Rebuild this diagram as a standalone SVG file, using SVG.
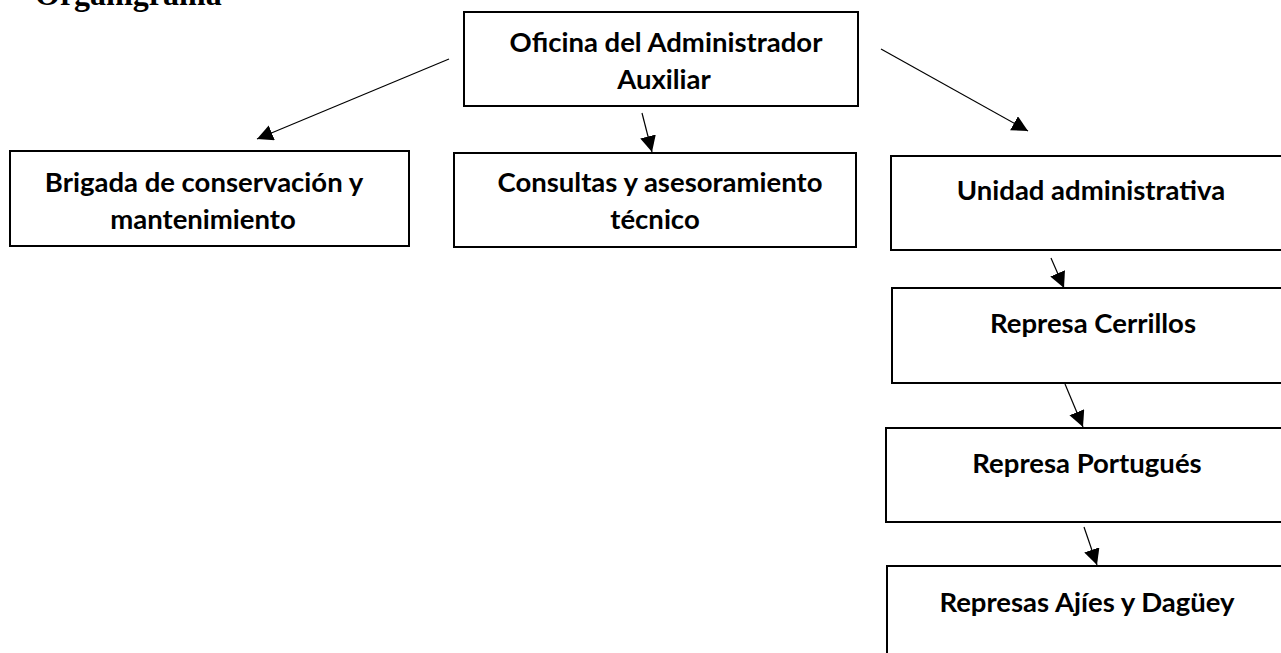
<svg xmlns="http://www.w3.org/2000/svg" width="1281" height="653" viewBox="0 0 1281 653">
<defs>
<style>
.box{fill:#fff;stroke:#000;stroke-width:2}
.t{font-family:Lato,"Liberation Sans",sans-serif;font-weight:bold;font-size:27.5px;fill:#000;text-anchor:middle}
.title{font-family:"Liberation Serif",serif;font-weight:bold;font-size:32px;fill:#000}
.c{stroke:#000;stroke-width:1.2;fill:none;marker-end:url(#ah)}
</style>
<marker id="ah" markerUnits="userSpaceOnUse" markerWidth="18" markerHeight="18" refX="16" refY="8" orient="auto">
<path d="M0,0 L16,8 L0,16 Z" fill="#000"/>
</marker>
</defs>
<rect width="1281" height="653" fill="#fff"/>
<text class="title" x="35" y="5">Organigrama</text>
<g id="connectors">
<line class="c" x1="449" y1="59" x2="257" y2="139"/>
<line class="c" x1="642" y1="113" x2="652" y2="152"/>
<line class="c" x1="881" y1="49" x2="1028" y2="131"/>
<line class="c" x1="1051" y1="258" x2="1064" y2="288"/>
<line class="c" x1="1065" y1="384" x2="1083" y2="427"/>
<line class="c" x1="1084" y1="527" x2="1097" y2="565"/>
</g>
<g id="n-oficina">
<rect class="box" x="464" y="12" width="394" height="94"/>
<text class="t" x="666" y="52">Oficina del Administrador</text>
<text class="t" x="664" y="89">Auxiliar</text>
</g>
<g id="n-brigada">
<rect class="box" x="10" y="151" width="399" height="95"/>
<text class="t" x="204" y="192">Brigada de conservación y</text>
<text class="t" x="203" y="229">mantenimiento</text>
</g>
<g id="n-consultas">
<rect class="box" x="454" y="153" width="402" height="94"/>
<text class="t" x="660" y="192">Consultas y asesoramiento</text>
<text class="t" x="655" y="229">técnico</text>
</g>
<g id="n-unidad">
<rect class="box" x="891" y="156" width="400" height="94"/>
<text class="t" x="1091" y="200">Unidad administrativa</text>
</g>
<g id="n-cerrillos">
<rect class="box" x="892" y="288" width="400" height="95"/>
<text class="t" x="1093" y="333">Represa Cerrillos</text>
</g>
<g id="n-portugues">
<rect class="box" x="886" y="428" width="400" height="94"/>
<text class="t" x="1087" y="473">Represa Portugués</text>
</g>
<g id="n-ajies">
<rect class="box" x="887" y="566" width="400" height="100"/>
<text class="t" x="1087" y="612">Represas Ajíes y Dagüey</text>
</g>
</svg>
